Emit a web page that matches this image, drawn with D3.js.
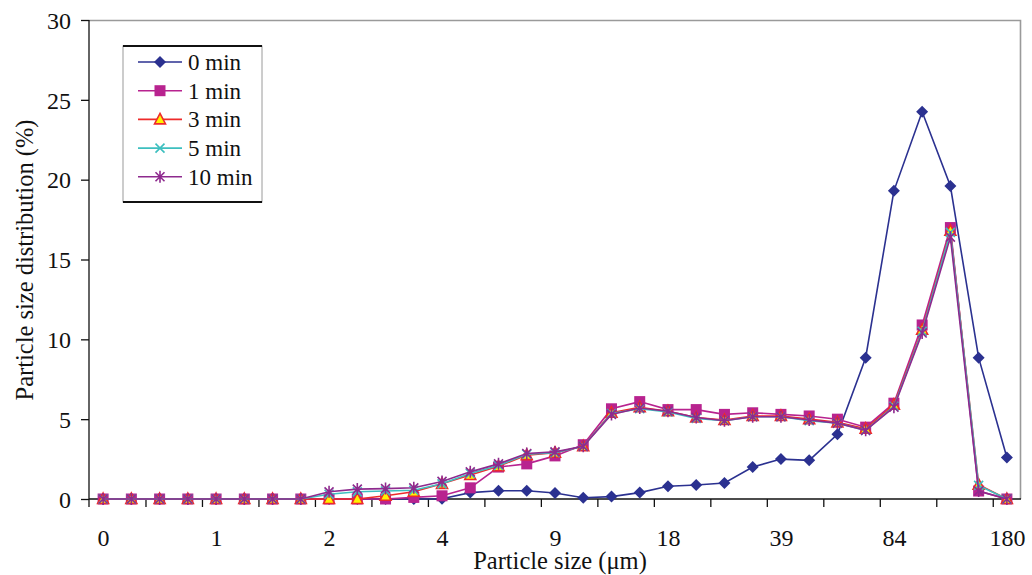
<!DOCTYPE html>
<html>
<head>
<meta charset="utf-8">
<script src="https://cdn.jsdelivr.net/npm/d3@7"></script>
<style>
  body { margin: 0; background: #fff; }
  text { font-family: "Liberation Serif", "Times New Roman", serif; fill: #111; }
</style>
</head>
<body>
<div id="chart"></div>
<script>
// Category positions (33 size classes), only every 4th is labelled
let categoryIndex = d3.range(33);
let labelIndex = [0, 4, 8, 12, 16, 20, 24, 28, 32];
let tickLabels = ["0", "1", "2", "4", "9", "18", "39", "84", "180"];

// Series values
let min0 = [0, 0, 0, 0, 0, 0, 0, 0, 0, 0, 0, 0, 0.02, 0.4, 0.52, 0.52, 0.38, 0.08, 0.15, 0.4, 0.8, 0.88, 1.0, 2.0, 2.5, 2.42, 4.05, 8.85, 19.3, 24.25, 19.6, 8.85, 2.6];
let min1 = [0, 0, 0, 0, 0, 0, 0, 0, 0, 0, 0, 0.1, 0.2, 0.7, 2.0, 2.2, 2.7, 3.4, 5.65, 6.1, 5.6, 5.6, 5.3, 5.4, 5.3, 5.2, 5.0, 4.5, 6.0, 10.9, 17.0, 0.5, 0];
let min3 = [0, 0, 0, 0, 0, 0, 0, 0, 0, 0, 0.2, 0.45, 0.95, 1.5, 2.05, 2.75, 2.9, 3.3, 5.4, 5.75, 5.5, 5.1, 4.95, 5.2, 5.2, 5.0, 4.8, 4.4, 5.9, 10.6, 16.8, 0.9, 0];
let min5 = [0, 0, 0, 0, 0, 0, 0, 0, 0.3, 0.45, 0.5, 0.55, 0.95, 1.6, 2.1, 2.8, 2.9, 3.3, 5.35, 5.65, 5.45, 5.05, 4.9, 5.15, 5.15, 4.9, 4.75, 4.3, 5.8, 10.5, 16.7, 0.85, 0];
let min10 = [0, 0, 0, 0, 0, 0, 0, 0, 0.45, 0.62, 0.65, 0.7, 1.1, 1.7, 2.2, 2.85, 2.95, 3.3, 5.3, 5.7, 5.5, 5.1, 4.9, 5.15, 5.15, 4.95, 4.75, 4.3, 5.75, 10.4, 16.4, 0.5, 0];

let seriesNames = ["0 min", "1 min", "3 min", "5 min", "10 min"];
let seriesValues = [min0, min1, min3, min5, min10];
let seriesColors = ["#2b3190", "#b8238f", "#ee2b2b", "#3dbfbf", "#8e2a8e"];
let seriesMarkers = ["diamond", "square", "triangle", "cross", "star"];

let svgWidth = 1032;
let svgHeight = 575;
let margin = { top: 20, right: 11, bottom: 76, left: 89 };
let width = svgWidth - margin.left - margin.right;
let height = svgHeight - margin.top - margin.bottom;

let svg = d3.select("#chart")
  .append("svg")
  .attr("width", svgWidth)
  .attr("height", svgHeight);

let chartGroup = svg.append("g")
  .attr("transform", `translate(${margin.left}, ${margin.top})`);

// Scales
let xScale = d3.scaleLinear().domain([-0.5, 32.5]).range([0, width]);
let yScale = d3.scaleLinear().domain([0, 30]).range([height, 0]);

// Top & right frame (gray)
chartGroup.append("path")
  .attr("d", `M0,0.5H${width - 0.5}V${height}`)
  .attr("fill", "none")
  .attr("stroke", "#9a9a9a")
  .attr("stroke-width", 1.6);

// Y axis
let leftAxis = d3.axisLeft(yScale).tickValues(d3.range(0, 31, 5)).tickSize(8).tickPadding(10);
let yAxis = chartGroup.append("g").call(leftAxis);
yAxis.select(".domain").remove();
yAxis.append("line").attr("x1", 0).attr("x2", 0).attr("y1", 0).attr("y2", height + 8)
  .attr("stroke", "#111").attr("stroke-width", 1.3);
yAxis.selectAll(".tick line").attr("stroke", "#111").attr("stroke-width", 1.3);
yAxis.selectAll(".tick text").attr("font-size", "24px").attr("dy", "0.34em");

// X axis: tick marks between pairs of categories
let tickMarks = d3.range(1.5, 32, 2);
let bottomAxis = d3.axisBottom(xScale).tickValues(tickMarks).tickSize(8).tickFormat("");
let xAxis = chartGroup.append("g")
  .attr("transform", `translate(0, ${height})`)
  .call(bottomAxis);
xAxis.select(".domain").attr("d", `M0,0H${width}`).attr("stroke", "#111").attr("stroke-width", 1.3);
xAxis.selectAll(".tick line").attr("stroke", "#111").attr("stroke-width", 1.3);

// X axis labels
let labelAxis = d3.axisBottom(xScale).tickValues(labelIndex).tickSize(0).tickPadding(0)
  .tickFormat((d, i) => tickLabels[i]);
let xLabels = chartGroup.append("g")
  .attr("transform", `translate(0, ${height})`)
  .call(labelAxis);
xLabels.select(".domain").remove();
xLabels.selectAll(".tick text").attr("font-size", "24px").attr("y", 47).attr("dy", 0);

// Axis titles
svg.append("text")
  .attr("x", 560)
  .attr("y", 569)
  .attr("text-anchor", "middle")
  .attr("font-size", "24.5px")
  .text("Particle size (μm)");

svg.append("text")
  .attr("transform", "translate(33, 260) rotate(-90)")
  .attr("text-anchor", "middle")
  .attr("font-size", "24.5px")
  .text("Particle size distribution (%)");

// Marker drawing
function drawMarker(g, type, color) {
  if (type === "diamond") {
    g.append("path").attr("d", "M0,-6L6,0L0,6L-6,0Z").attr("fill", color);
  } else if (type === "square") {
    g.append("rect").attr("x", -5.5).attr("y", -5.5).attr("width", 11).attr("height", 11).attr("fill", color);
  } else if (type === "triangle") {
    g.append("path").attr("d", "M0,-6L5.5,4.5L-5.5,4.5Z")
      .attr("fill", "#fff200").attr("stroke", color).attr("stroke-width", 1.6);
  } else if (type === "cross") {
    g.append("path").attr("d", "M-4.5,-4.5L4.5,4.5M-4.5,4.5L4.5,-4.5")
      .attr("stroke", color).attr("stroke-width", 1.6);
  } else {
    g.append("path").attr("d", "M-4.5,-4.5L4.5,4.5M-4.5,4.5L4.5,-4.5M0,-6L0,6")
      .attr("stroke", color).attr("stroke-width", 1.6);
  }
}

let line = d3.line()
  .x((d, i) => xScale(categoryIndex[i]))
  .y((d) => yScale(d));

// Series
seriesValues.forEach(function (values, s) {
  let group = chartGroup.append("g");
  group.append("path")
    .datum(values)
    .attr("d", line)
    .attr("fill", "none")
    .attr("stroke", seriesColors[s])
    .attr("stroke-width", 1.6);
  group.selectAll(".marker")
    .data(values)
    .enter()
    .append("g")
    .attr("transform", (d, i) => `translate(${xScale(categoryIndex[i])}, ${yScale(d)})`)
    .each(function () {
      drawMarker(d3.select(this), seriesMarkers[s], seriesColors[s]);
    });
});

// Legend
let legend = svg.append("g").attr("transform", "translate(123, 46)");
legend.append("rect").attr("width", 139).attr("height", 156)
  .attr("fill", "#fff").attr("stroke", "#9a9a9a").attr("stroke-width", 1);
legend.append("line").attr("x1", 0).attr("x2", 139).attr("y1", 0).attr("y2", 0)
  .attr("stroke", "#111").attr("stroke-width", 2);
legend.append("line").attr("x1", 0).attr("x2", 139).attr("y1", 156).attr("y2", 156)
  .attr("stroke", "#111").attr("stroke-width", 2);

seriesNames.forEach(function (name, s) {
  let row = legend.append("g").attr("transform", `translate(0, ${16 + s * 28.7})`);
  row.append("line").attr("x1", 15).attr("x2", 59).attr("y1", 0).attr("y2", 0)
    .attr("stroke", seriesColors[s]).attr("stroke-width", 1.6);
  drawMarker(row.append("g").attr("transform", "translate(37, 0)"), seriesMarkers[s], seriesColors[s]);
  row.append("text").attr("x", 65).attr("y", 8).attr("font-size", "23px").text(name);
});
</script>
</body>
</html>
